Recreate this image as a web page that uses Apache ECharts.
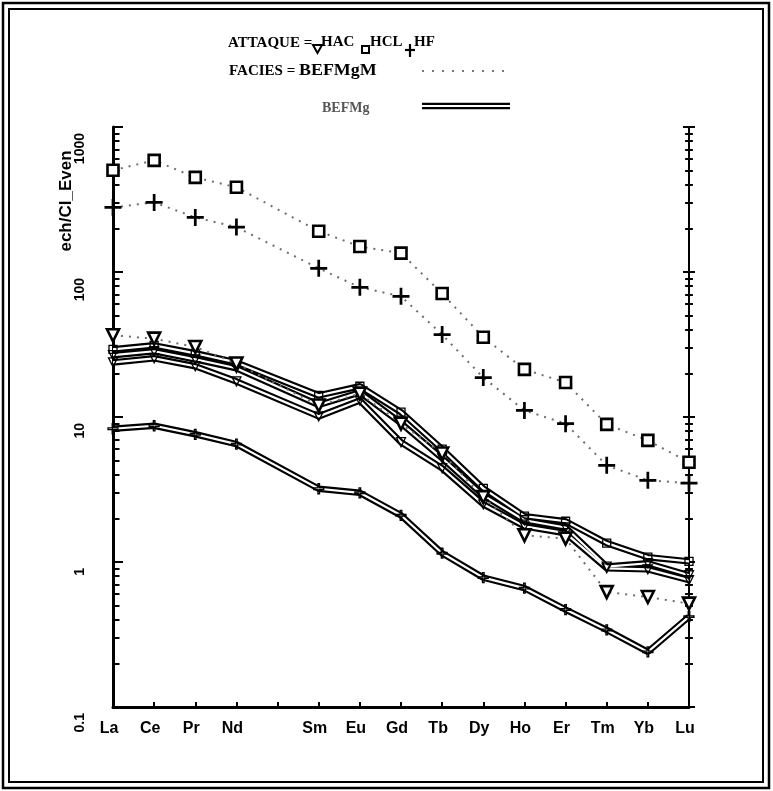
<!DOCTYPE html>
<html>
<head>
<meta charset="utf-8">
<script src="https://cdn.jsdelivr.net/npm/echarts@6/dist/echarts.min.js"></script>
<style>html,body{margin:0;padding:0;background:#fff}#chart{width:773px;height:791px}</style>
</head>
<body>
<div id="chart"></div>
<script>
// terres rares, Pm absent
var elements = ['La','Ce','Pr','Nd','Pm','Sm','Eu','Gd','Tb','Dy','Ho','Er','Tm','Yb','Lu'];

// FACIES BEFMgM (pointillés)
var hclM = [503, 589, 449, 384, null, 191, 150, 135, 71, 35.5, 21.3, 17.3, 8.9, 6.9, 4.87];
var hfM  = [279, 302, 238, 204, null, 106, 78.4, 68, 37, 18.7, 11.1, 9.0, 4.64, 3.66, 3.5];
var hacM = [36.6, 34.7, 30.4, 23.4, null, 12.0, 14.5, 9.0, 5.6, 2.8, 1.53, 1.45, 0.62, 0.574, 0.516];

// FACIES BEFMg (double trait)
var g1 = [29.3, 31.2, 27.5, 23.8, null, 14.1, 16.3, 10.8, 6.0, 3.22, 2.07, 1.91, 1.35, 1.08, 1.01];
var g2 = [26.7, 28.4, 25.0, 21.7, null, 12.1, 14.8, 9.06, 5.19, 2.88, 1.94, 1.73, 0.93, 0.98, 0.81];
var g3 = [23.8, 25.4, 22.4, 17.6, null, 10.1, 13.0, 6.7, 4.43, 2.50, 1.76, 1.58, 0.905, 0.89, 0.75];
var g4 = [8.3, 8.7, 7.6, 6.5, null, 3.2, 3.0, 2.1, 1.15, 0.78, 0.66, 0.47, 0.34, 0.24, 0.42];

var CROSS = 'path://M4.2,0H5.8V4.2H10V5.8H5.8V10H4.2V5.8H0V4.2H4.2Z';

function dotted(name, data, symbol, size, rot) {
    var cross = symbol == CROSS;
    return {
        name: name, type: 'line', data: data, connectNulls: true,
        symbol: symbol, symbolSize: size, symbolRotate: rot || 0,
        lineStyle: {color: '#6e6e6e', width: 2, type: [2, 6]},
        itemStyle: cross ? {color: '#000', borderWidth: 0} : {color: '#fff', borderColor: '#000', borderWidth: 2.6},
        z: 5
    };
}
function dbl(name, data, symbol, size, rot) {
    return [{
        name: name, type: 'line', data: data, connectNulls: true, symbol: 'none',
        lineStyle: {color: '#000', width: 6.5}, z: 2
    }, {
        name: name, type: 'line', data: data, connectNulls: true,
        symbol: symbol, symbolSize: size, symbolRotate: rot || 0,
        lineStyle: {color: '#fff', width: 2.2},
        itemStyle: {color: 'rgba(255,255,255,0)', borderColor: '#000', borderWidth: 1.3},
        z: 3
    }];
}

var series = [].concat(
    dbl('BEFMg 1', g4, CROSS, 10),
    dbl('BEFMg 2', g3, 'triangle', 9, 180),
    dbl('BEFMg 3', g2, 'triangle', 9, 180),
    dbl('BEFMg 4', g1, 'rect', 8),
    [dotted('HAC', hacM, 'triangle', 12, 180),
     dotted('HCL', hclM, 'rect', 11),
     dotted('HF', hfM, CROSS, 17)]
);

function logAxis(pos, show, inside, len) {
    return {
        type: 'log', logBase: 10, min: 0.1, max: 1000, position: pos,
        axisLine: {show: show, lineStyle: {color: '#000', width: pos == 'left' ? 3 : 2}},
        axisTick: {show: true, inside: inside, length: len, lineStyle: {color: '#000', width: 2}},
        minorTick: {show: true, splitNumber: 9, length: len * 0.65, lineStyle: {color: '#000', width: 2}},
        splitLine: {show: false},
        axisLabel: {show: false}
    };
}
var yLeft = logAxis('left', true, true, 10);
yLeft.axisLabel = {
    show: true, rotate: 90, margin: 33, align: 'right', verticalAlign: 'middle',
    padding: [0, 6, 0, 0],
    fontFamily: 'Liberation Sans', fontWeight: 'bold', fontSize: 14, color: '#000',
    formatter: function (v) { return String(v); }
};

var serif = 'bold 15px "Liberation Serif"';
var chart = echarts.init(document.getElementById('chart'));
chart.setOption({
    backgroundColor: '#fff',
    animation: false,
    grid: {left: 113, right: 84, top: 127, bottom: 84},
    xAxis: {
        type: 'category', data: elements, boundaryGap: false,
        axisLine: {lineStyle: {color: '#000', width: 3}},
        axisTick: {show: true, inside: true, length: 5, interval: 0, lineStyle: {color: '#000', width: 2}},
        axisLabel: {
            interval: 0, margin: 14, padding: [0, 8, 0, 0],
            fontFamily: 'Liberation Sans', fontWeight: 'bold', fontSize: 16, color: '#000',
            formatter: function (v) { return v == 'Pm' ? '' : v; }
        },
        splitLine: {show: false}
    },
    yAxis: [yLeft, logAxis('right', true, true, 6), logAxis('right', false, false, 6)],
    series: series,
    graphic: [
        {type: 'rect', shape: {x: 3, y: 3, width: 766, height: 785}, style: {fill: 'none', stroke: '#000', lineWidth: 2.5}, silent: true},
        {type: 'rect', shape: {x: 9, y: 9, width: 754, height: 773}, style: {fill: 'none', stroke: '#000', lineWidth: 2}, silent: true},
        {type: 'text', x: 66, y: 201, rotation: Math.PI / 2,
         style: {text: 'ech/Cl_Even', font: 'bold 17px "Liberation Sans"', fill: '#000', textAlign: 'center', textVerticalAlign: 'middle'}},
        // légende
        {type: 'text', x: 228, y: 43, style: {text: 'ATTAQUE =', font: serif, fill: '#000', textVerticalAlign: 'middle'}},
        {type: 'polygon', shape: {points: [[313, 45], [322, 45], [317.5, 53]]}, style: {fill: '#fff', stroke: '#000', lineWidth: 2}},
        {type: 'text', x: 321, y: 42, style: {text: 'HAC', font: serif, fill: '#000', textVerticalAlign: 'middle'}},
        {type: 'rect', shape: {x: 362, y: 46, width: 7, height: 7}, style: {fill: '#fff', stroke: '#000', lineWidth: 2}},
        {type: 'text', x: 370, y: 42, style: {text: 'HCL', font: serif, fill: '#000', textVerticalAlign: 'middle'}},
        {type: 'polyline', shape: {points: [[405, 50], [415, 50]]}, style: {stroke: '#000', lineWidth: 2.2}},
        {type: 'polyline', shape: {points: [[410, 44], [410, 57]]}, style: {stroke: '#000', lineWidth: 2.2}},
        {type: 'text', x: 414, y: 42, style: {text: 'HF', font: serif, fill: '#000', textVerticalAlign: 'middle'}},
        {type: 'text', x: 229, y: 71, style: {text: 'FACIES =', font: serif, fill: '#000', textVerticalAlign: 'middle'}},
        {type: 'text', x: 299, y: 71, scaleX: 1.12, style: {text: 'BEFMgM', font: 'bold 16px "Liberation Serif"', fill: '#000', textVerticalAlign: 'middle'}},
        {type: 'polyline', shape: {points: [[422, 71], [506, 71]]}, style: {stroke: '#777', lineWidth: 1.8, lineDash: [2, 8]}},
        {type: 'text', x: 322, y: 108, style: {text: 'BEFMg', font: 'bold 14px "Liberation Serif"', fill: '#555', textVerticalAlign: 'middle'}},
        {type: 'polyline', shape: {points: [[422, 106], [510, 106]]}, style: {stroke: '#000', lineWidth: 6.5}},
        {type: 'polyline', shape: {points: [[422, 106], [510, 106]]}, style: {stroke: '#fff', lineWidth: 2.2}}
    ]
});
</script>
</body>
</html>
